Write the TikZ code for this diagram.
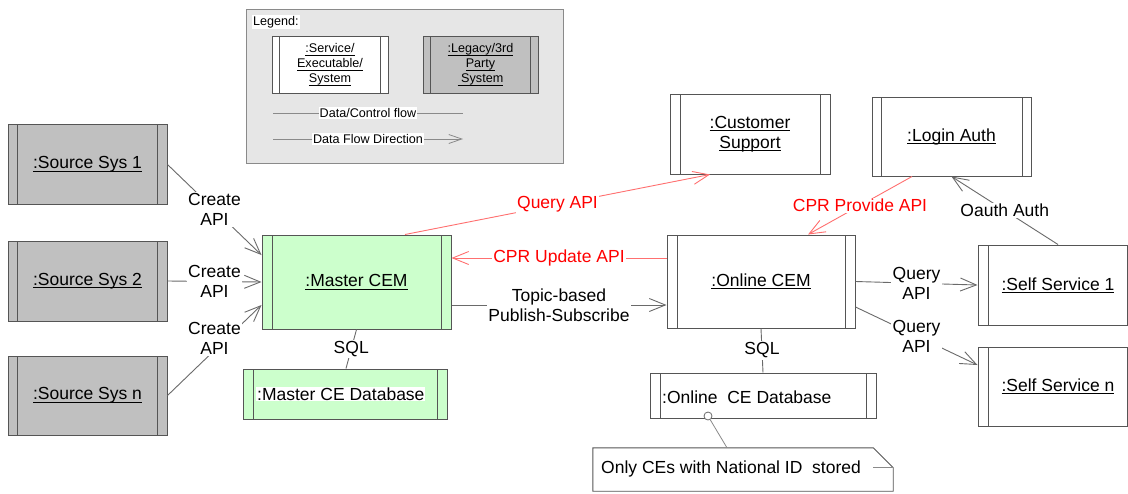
\documentclass[tikz,border=0pt]{standalone}
\usepackage{fontspec}
\setmainfont{Liberation Sans}
\usetikzlibrary{arrows.meta,calc}
\definecolor{bordc}{HTML}{555555}
\definecolor{linec}{HTML}{6A6A6A}
\definecolor{legl}{HTML}{8A8A8A}
\definecolor{redl}{HTML}{FF7070}
\definecolor{redt}{HTML}{FF0000}
\definecolor{legbg}{HTML}{E6E6E6}
\definecolor{legacyc}{HTML}{C0C0C0}
\definecolor{cemgreen}{HTML}{CCFFCC}
\newcommand\ulbox[1]{\setbox0\hbox{#1}\rlap{\rule[-2.6pt]{\wd0}{0.8pt}}\box0}
\begin{document}
\begin{tikzpicture}[x=1pt,y=-1pt,
  bigfont/.style={font=\fontsize{17.5}{20}\selectfont},
  smallfont/.style={font=\fontsize{12.6}{15}\selectfont},
  sysbox/.style={draw=bordc, line width=1pt, inner sep=0pt, align=center, bigfont,
     path picture={
       \draw[bordc, line width=1pt] ([xshift=#1]path picture bounding box.north west) -- ([xshift=#1]path picture bounding box.south west);
       \draw[bordc, line width=1pt] ([xshift=-#1]path picture bounding box.north east) -- ([xshift=-#1]path picture bounding box.south east);
     }},
  sysbox/.default=10pt,
  sysboxl/.style={draw=bordc, line width=1pt, inner sep=0pt,
     path picture={
       \draw[bordc, line width=1pt] ([xshift=10pt]path picture bounding box.north west) -- ([xshift=10pt]path picture bounding box.south west);
     }},
  conn/.style={draw=linec, line width=0.9pt},
  rconn/.style={draw=redl, line width=0.9pt},
  arr/.style={-{Straight Barb[length=16pt,width=13pt]}},
  lbl/.style={fill=white, inner sep=1.5pt, align=center, bigfont, text=black},
  rlbl/.style={fill=white, inner sep=1.5pt, align=center, bigfont, text=redt},
  slbl/.style={fill=white, inner sep=1pt, smallfont, text=black},
]
\path[use as bounding box, clip] (0,0) rectangle (1128,493);
\fill[white] (0,0) rectangle (1128,493);

% ---------- Legend ----------
\node[draw=legl, line width=1pt, fill=legbg, minimum width=317pt, minimum height=154pt] (legend) at (404.5,86) {};
\node[slbl, anchor=west] (legtitle) at (252,22) {Legend:};
\node[sysbox=7.5pt, fill=white, minimum width=116pt, minimum height=57pt, smallfont] (lsvc) at (330,64.5)
  {\ulbox{:Service/}\\\ulbox{Executable/}\\\ulbox{System}};
\node[sysbox=7.5pt, fill=legacyc, minimum width=115pt, minimum height=57pt, smallfont] (llegacy) at (480.5,64.5)
  {\ulbox{:Legacy/3rd}\\\ulbox{Party}\\\ulbox{\ System}};
\coordinate (l1a) at (273,113);
\coordinate (l1b) at (463,113);
\coordinate (l2a) at (273,139);
\coordinate (l2b) at (463,139);
\draw[draw=legl, line width=0.8pt] (l1a) -- node[slbl] {Data/Control flow} (l1b);
\draw[draw=legl, line width=0.8pt, -{Straight Barb[length=13pt,width=9pt]}] (l2a) -- node[slbl] {Data Flow Direction} (l2b);

% ---------- Source systems ----------
\node[sysbox=9.5pt, fill=legacyc, minimum width=159pt, minimum height=80pt] (s1) at (87.5,164.5) {\ulbox{:Source Sys 1}};
\node[sysbox=9.5pt, fill=legacyc, minimum width=159pt, minimum height=80pt] (s2) at (87.5,281) {\ulbox{:Source Sys 2}};
\node[sysbox=9.5pt, fill=legacyc, minimum width=159pt, minimum height=79pt] (sn) at (87.5,395.5) {\ulbox{:Source Sys n}};

% ---------- Master ----------
\node[sysbox, fill=cemgreen, minimum width=189pt, minimum height=94pt] (master) at (356.5,282) {\ulbox{:Master CEM}};
\node[sysbox, fill=cemgreen, minimum width=204pt, minimum height=50pt] (mdb) at (345,394) {};
\node[lbl, inner sep=1pt, anchor=west] (mdbt) at (256,394) {:Master CE Database};

% ---------- Online ----------
\node[sysbox, fill=white, minimum width=188pt, minimum height=93pt] (online) at (761,281.5) {\ulbox{:Online CEM}};
\node[sysbox, fill=white, minimum width=226pt, minimum height=45pt] (odb) at (763,395.5) {};
\node[lbl, inner sep=1pt, anchor=west] (odbt) at (661,397) {:Online\ \ CE Database};

% ---------- Top right ----------
\node[sysbox, fill=white, minimum width=160pt, minimum height=80pt] (cs) at (750,134) {\ulbox{:Customer}\\\ulbox{Support}};
\node[sysbox=9pt, fill=white, minimum width=159pt, minimum height=79pt] (login) at (951.5,136.5) {\ulbox{:Login Auth}};

% ---------- Self services ----------
\node[sysboxl, fill=white, minimum width=149pt, minimum height=80pt] (ss1) at (1052.5,285) {};
\node[bigfont, inner sep=0pt] (ss1t) at (1058,285) {\ulbox{:Self Service 1}};
\node[sysboxl, fill=white, minimum width=149pt, minimum height=79pt] (ssn) at (1052.5,386.5) {};
\node[bigfont, inner sep=0pt] (ssnt) at (1058,386) {\ulbox{:Self Service n}};

% ---------- Note ----------
\node[minimum width=300pt, minimum height=43pt, inner sep=0pt] (note) at (743,469.5) {};
\draw[draw=bordc, line width=0.9pt, fill=white] (note.north west) -- ([xshift=-20pt]note.north east) -- ([yshift=-20pt]note.north east) -- (note.south east) -- (note.south west) -- cycle;
\draw[draw=legl, line width=0.9pt] ([xshift=-20pt, yshift=-20pt]note.north east) -- ([yshift=-20pt]note.north east);
\node[lbl, inner sep=0pt, anchor=west] (notet) at (601,469) {Only CEs with National ID\ \ stored};
\node[circle, draw=linec, line width=0.8pt, fill=white, minimum size=8pt, inner sep=0pt] (pin) at (708,416) {};
\draw[draw=legl, line width=0.8pt] (pin) -- ([xshift=-16pt]note.north);

% ---------- Connectors ----------
\draw[conn, arr] (s1.east) -- node[lbl] {Create\\API} ([yshift=27pt]master.west);
\draw[conn, arr] (s2.east) -- node[lbl] {Create\\API} (master.west);
\draw[conn, arr] (sn.east) -- node[lbl, yshift=12pt] {Create\\API} ([yshift=-23pt]master.west);

\draw[conn] (master.south) -- node[lbl] {SQL} ([xshift=1pt]mdb.north);
\draw[conn] (online.south) -- node[lbl] {SQL} (odb.north);

\draw[rconn, arr] ([xshift=48.5pt]master.north) -- node[rlbl] {Query API} ([xshift=-40pt]cs.south);
\draw[rconn, arr] ([yshift=23.5pt]online.west) -- node[rlbl] {CPR Update API} ([yshift=24pt]master.east);
\draw[rconn, arr] ([xshift=-39.5pt]login.south) -- node[rlbl] {CPR Provide API} ([xshift=47pt]online.north);

\draw[conn, arr] ([yshift=-23pt]master.east) -- node[lbl] {Topic-based\\Publish-Subscribe} ([yshift=-23.5pt]online.west);
\draw[conn, arr] ([xshift=5.5pt]ss1.north) -- node[lbl] {Oauth Auth} (login.south);
\draw[conn, arr] (online.east) -- node[lbl] {Query\\API} (ss1.west);
\draw[conn, arr] ([yshift=-25.5pt]online.east) -- node[lbl] {Query\\API} ([yshift=21.5pt]ssn.west);
\end{tikzpicture}
\end{document}
